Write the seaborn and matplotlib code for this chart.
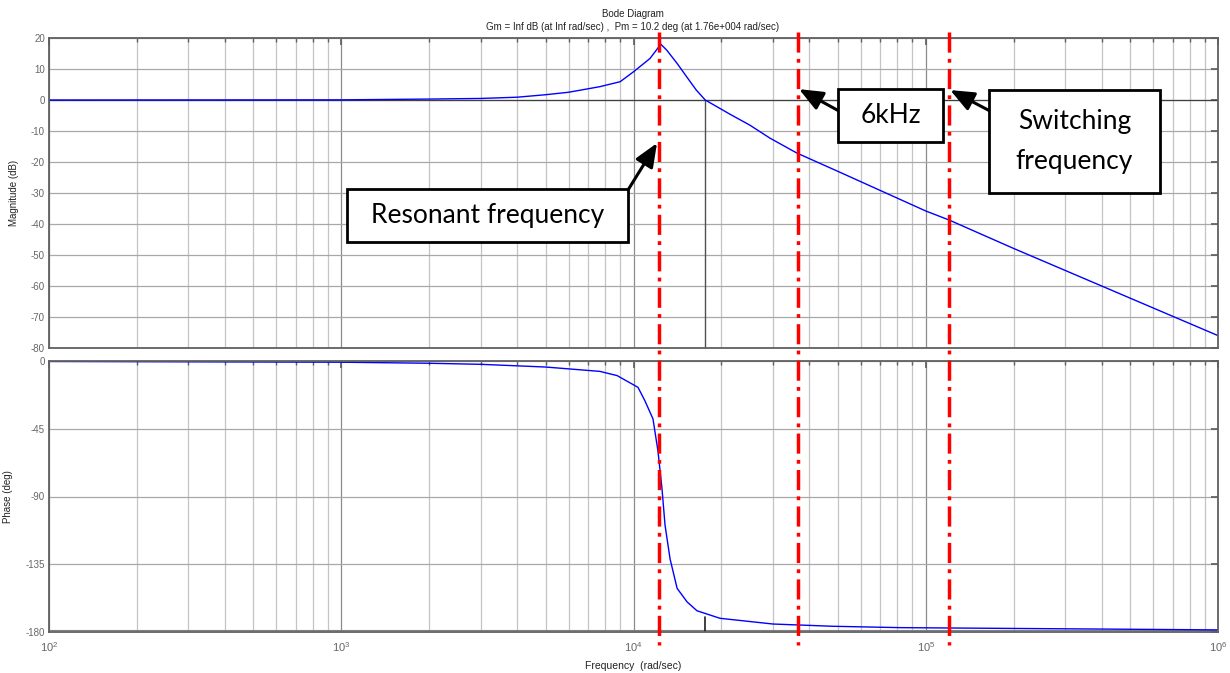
import numpy as np
import pandas as pd
import matplotlib
matplotlib.use("Agg")
import matplotlib.pyplot as plt
import seaborn as sns
from matplotlib.lines import Line2D
from matplotlib.patches import Rectangle
from matplotlib.ticker import LogLocator, NullFormatter, LogFormatterMathtext, FixedLocator
import matplotlib.transforms as mtransforms

# ---------------- data ----------------
mag_freq = [100, 1000, 2000, 3000, 4000, 5000, 6000, 7670, 9000, 10000, 11390,
            12400, 12990, 14100, 15200, 16400, 17600, 21400, 25000, 29300,
            36200, 50000, 100000, 120100, 200000, 500000, 1000000]
mag_db = [0.0, 0.05, 0.3, 0.5, 0.9, 1.7, 2.5, 4.3, 5.9, 9.1, 13.4,
          18.0, 16.1, 11.8, 7.5, 3.2, 0.0, -4.6, -8.1, -12.3,
          -17.1, -23.0, -35.8, -38.7, -47.9, -63.9, -76.0]

ph_freq = [100, 1000, 2000, 3000, 5000, 7674, 8790, 10360, 10940, 11660, 12130,
           12520, 12820, 13340, 14100, 15250, 16490, 19770, 30000, 48160,
           81700, 1000000]
ph_deg = [-0.3, -0.8, -1.5, -2.2, -4.0, -6.9, -9.7, -17.5, -26.4, -38.5, -60.0,
          -85.0, -109.0, -131.5, -151.0, -160.0, -165.9, -170.9, -174.7, -176.2,
          -177.1, -178.6]

mag_ticks = [20, 10, 0, -10, -20, -30, -40, -50, -60, -70, -80]
ph_ticks = [0, -45, -90, -135, -180]

title_lines = ["Bode Diagram",
               "Gm = Inf dB (at Inf rad/sec) ,  Pm = 10.2 deg (at 1.76e+004 rad/sec)"]
pm_freq = 17600.0
pm_deg = 10.2

marker_freqs = [12220, 36500, 120100]          # resonant, 6 kHz, switching (rad/s)
marker_tips_db = [-13.9, 3.5, 3.2]
marker_labels = ["Resonant frequency", "6kHz", "Switching\nfrequency"]

# ---------------- styling ----------------
sns.set_theme(style="white")
plt.rcParams['font.family'] = ['Liberation Sans', 'DejaVu Sans']
plt.rcParams['axes.unicode_minus'] = False
plt.rcParams['mathtext.fontset'] = 'custom'
plt.rcParams['mathtext.rm'] = 'Liberation Sans'
plt.rcParams['mathtext.it'] = 'Liberation Sans'

W, H = 1230, 673
fig = plt.figure(figsize=(W / 100, H / 100), dpi=100)
fig.patch.set_facecolor('white')

def fx(px):
    return px / W

def fy(py):
    return 1 - py / H

ax_m = fig.add_axes([fx(49), fy(348), fx(1218) - fx(49), fy(38) - fy(348)])
ax_p = fig.add_axes([fx(49), fy(632), fx(1218) - fx(49), fy(361) - fy(632)])

df_m = pd.DataFrame({"freq": mag_freq, "mag": mag_db})
df_p = pd.DataFrame({"freq": ph_freq, "phase": ph_deg})

tick_col = '#666666'
for ax in (ax_m, ax_p):
    ax.set_xscale('log')
    ax.set_xlim(1e2, 1e6)
    ax.xaxis.set_major_locator(LogLocator(base=10, numticks=10))
    ax.xaxis.set_minor_locator(LogLocator(base=10, subs=np.arange(2, 10), numticks=20))
    ax.xaxis.set_minor_formatter(NullFormatter())
    ax.grid(which='major', axis='x', color='#8c8c8c', lw=0.9)
    ax.grid(which='minor', axis='x', color='#c4c4c4', lw=0.9)
    ax.grid(which='major', axis='y', color='#a8a8a8', lw=0.9)
    ax.set_axisbelow(True)
    for s in ax.spines.values():
        s.set_color('#606060')
        s.set_linewidth(1.3)
    ax.tick_params(which='both', direction='in', top=True, right=True,
                   colors='#606060', labelcolor=tick_col, labelsize=7, pad=3)
    ax.tick_params(which='major', length=5)
    ax.tick_params(which='minor', length=3)

sns.lineplot(data=df_m, x="freq", y="mag", ax=ax_m, color='#0000ff', lw=1.0, sort=True)
sns.lineplot(data=df_p, x="freq", y="phase", ax=ax_p, color='#0000ff', lw=1.0, sort=True)

ax_m.set_ylim(-80, 20)
ax_m.yaxis.set_major_locator(FixedLocator(mag_ticks))
ax_m.tick_params(axis='x', labelbottom=False)
ax_m.set_xlabel('')
ax_m.axhline(0, color='#404040', lw=0.9, zorder=1.5)
ax_m.plot([pm_freq, pm_freq], [0, -80], color='#505050', lw=1.0, zorder=1.5)

ax_p.set_ylim(-180, 0)
ax_p.yaxis.set_major_locator(FixedLocator(ph_ticks))
ax_p.xaxis.set_major_formatter(LogFormatterMathtext())
ax_p.tick_params(axis='x', labelsize=8, pad=6)
ax_p.axhline(-179, color='#808080', lw=0.8, zorder=1.5)
ax_p.plot([pm_freq, pm_freq], [-180, -180 + pm_deg], color='#202020', lw=1.2, zorder=1.5)

ax_m.set_ylabel('Magnitude (dB)', fontsize=7, color='#222222')
ax_m.yaxis.set_label_coords(-0.026, 0.5)
ax_p.set_ylabel('Phase (deg)', fontsize=7, color='#222222')
ax_p.yaxis.set_label_coords(-0.031, 0.5)
ax_p.set_xlabel('Frequency  (rad/sec)', fontsize=7.5, color='#222222')
ax_p.xaxis.set_label_coords(0.5, -0.108)

fig.text(fx(633), fy(14), title_lines[0], ha='center', va='center', fontsize=7, color='#222222')
fig.text(fx(633), fy(27), title_lines[1], ha='center', va='center', fontsize=7, color='#222222')

# ---------------- red dash-dot marker lines ----------------
blend = mtransforms.blended_transform_factory(ax_p.transData, fig.transFigure)
for f in marker_freqs:
    ln = Line2D([f, f], [fy(32), fy(645)], transform=blend, color='#ff0000', lw=2.5,
                linestyle=(0, (5.8, 1.8, 1.1, 1.8)), zorder=10, clip_on=False)
    fig.add_artist(ln)

# ---------------- annotation boxes + arrows ----------------
boxes = [(347, 189, 628, 242), (838, 89, 943, 142), (989, 90, 1160, 193)]
tails = [(628, 190), (839, 111), (990, 111)]
for (x0, y0, x1, y1), lab in zip(boxes, marker_labels):
    rect = Rectangle((fx(x0), fy(y1)), fx(x1) - fx(x0), fy(y0) - fy(y1),
                     transform=fig.transFigure, facecolor='white', edgecolor='black',
                     lw=2.0, zorder=20)
    fig.add_artist(rect)
    fig.text(fx((x0 + x1) / 2), fy((y0 + y1) / 2), lab, ha='center', va='center',
             fontsize=19, family=['Lato', 'DejaVu Sans'], color='black',
             linespacing=1.8, zorder=21)

for f, db, (tx, ty) in zip(marker_freqs, marker_tips_db, tails):
    ax_m.annotate('', xy=(f * 0.985 if f < 20000 else f * 1.01, db),
                  xycoords='data', xytext=(tx, H - ty), textcoords='figure pixels',
                  arrowprops=dict(arrowstyle='-|>,head_length=1.2,head_width=0.5',
                                  lw=2.2, color='black', shrinkA=0, shrinkB=0),
                  annotation_clip=False, zorder=22)

fig.savefig('out.png', dpi=100, facecolor='white')
